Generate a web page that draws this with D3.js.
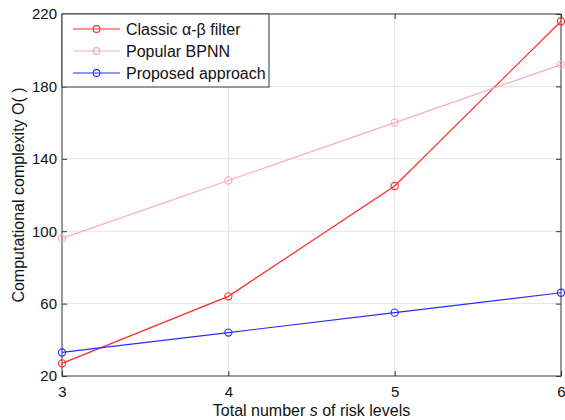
<!DOCTYPE html>
<html>
<head>
<meta charset="utf-8">
<script src="https://cdn.jsdelivr.net/npm/d3@7"></script>
<style>
  body { margin: 0; background: #fff; }
  svg { font-family: Arial, "Liberation Sans", sans-serif; }
</style>
</head>
<body>
<svg id="chart" width="565" height="420"></svg>
<script>
// data
const levels = [3, 4, 5, 6];
const classicFilter = [27, 64, 125, 216];
const popularBPNN = [96, 128, 160, 192];
const proposed = [33, 44, 55, 66];
const yTicks = [20, 60, 100, 140, 180, 220];
const seriesNames = ['Classic \u03b1-\u03b2 filter', 'Popular BPNN', 'Proposed approach'];

const series = [
  { name: seriesNames[0], values: classicFilter, color: '#ff2a2a' },
  { name: seriesNames[1], values: popularBPNN, color: '#f9aac4' },
  { name: seriesNames[2], values: proposed, color: '#2a2aff' },
];

const svg = d3.select('#chart');
const margin = { left: 62, right: 4, top: 14, bottom: 44 };
const width = 565 - margin.left - margin.right;
const height = 420 - margin.top - margin.bottom;
const axisColor = '#333';

const x = d3.scaleLinear().domain([3, 6]).range([0, width]);
const y = d3.scaleLinear().domain([20, 220]).range([height, 0]);

const g = svg.append('g').attr('transform', `translate(${margin.left},${margin.top})`);

// grid
g.append('g').selectAll('line').data(levels.slice(1, -1)).join('line')
  .attr('x1', d => x(d)).attr('x2', d => x(d))
  .attr('y1', 0).attr('y2', height)
  .attr('stroke', '#e4e4e4').attr('stroke-width', 1);
g.append('g').selectAll('line').data(yTicks.slice(1, -1)).join('line')
  .attr('x1', 0).attr('x2', width)
  .attr('y1', d => y(d)).attr('y2', d => y(d))
  .attr('stroke', '#e4e4e4').attr('stroke-width', 1);

// axes (box with ticks on all sides, MATLAB style)
const xAxis = d3.axisBottom(x).tickValues(levels).tickFormat(d3.format('d')).tickSizeInner(-5).tickSizeOuter(0).tickPadding(10);
const yAxis = d3.axisLeft(y).tickValues(yTicks).tickSizeInner(-5).tickSizeOuter(0).tickPadding(5);

const styleAxis = sel => {
  sel.select('.domain').remove();
  sel.selectAll('line').attr('stroke', axisColor);
  sel.selectAll('text').attr('fill', '#111').style('font-size', '15px');
};

g.append('g').attr('transform', `translate(0,${height})`).call(xAxis).call(styleAxis);
g.append('g').call(yAxis).call(styleAxis);
g.append('g').call(d3.axisTop(x).tickValues(levels).tickSizeInner(-5).tickSizeOuter(0).tickFormat(''))
  .call(styleAxis);
g.append('g').attr('transform', `translate(${width},0)`)
  .call(d3.axisRight(y).tickValues(yTicks).tickSizeInner(-5).tickSizeOuter(0).tickFormat(''))
  .call(styleAxis);

g.append('rect').attr('width', width).attr('height', height)
  .attr('fill', 'none').attr('stroke', axisColor).attr('stroke-width', 1);

// lines
const line = d3.line().x((d, i) => x(levels[i])).y(d => y(d));
series.forEach(s => {
  g.append('path').datum(s.values)
    .attr('d', line).attr('fill', 'none')
    .attr('stroke', s.color).attr('stroke-width', 1.2);
  g.append('g').selectAll('circle').data(s.values).join('circle')
    .attr('cx', (d, i) => x(levels[i])).attr('cy', d => y(d))
    .attr('r', 3.6).attr('fill', 'none')
    .attr('stroke', s.color).attr('stroke-width', 1.1);
});

// legend
const legend = g.append('g');
legend.append('rect').attr('x', 0).attr('y', 0).attr('width', 207).attr('height', 73)
  .attr('fill', '#fff').attr('stroke', axisColor).attr('stroke-width', 1);
series.forEach((s, i) => {
  const ly = 15 + i * 22;
  legend.append('line').attr('x1', 11).attr('x2', 58).attr('y1', ly).attr('y2', ly)
    .attr('stroke', s.color).attr('stroke-width', 1.2);
  legend.append('circle').attr('cx', 34.5).attr('cy', ly).attr('r', 3.4)
    .attr('fill', 'none').attr('stroke', s.color).attr('stroke-width', 1.1);
  legend.append('text').attr('x', 64).attr('y', ly + 6)
    .style('font-size', '16px').attr('fill', '#111').text(s.name);
});

// axis labels
svg.append('text')
  .attr('x', margin.left + width / 2).attr('y', 416)
  .attr('text-anchor', 'middle').style('font-size', '16px').attr('fill', '#111')
  .call(t => {
    t.append('tspan').text('Total number ');
    t.append('tspan').style('font-style', 'italic').text('s');
    t.append('tspan').text(' of risk levels');
  });

svg.append('text')
  .attr('transform', `translate(24,${margin.top + height / 2}) rotate(-90)`)
  .attr('text-anchor', 'middle').style('font-size', '16px').attr('fill', '#111')
  .text('Computational complexity O( )');
</script>
</body>
</html>
